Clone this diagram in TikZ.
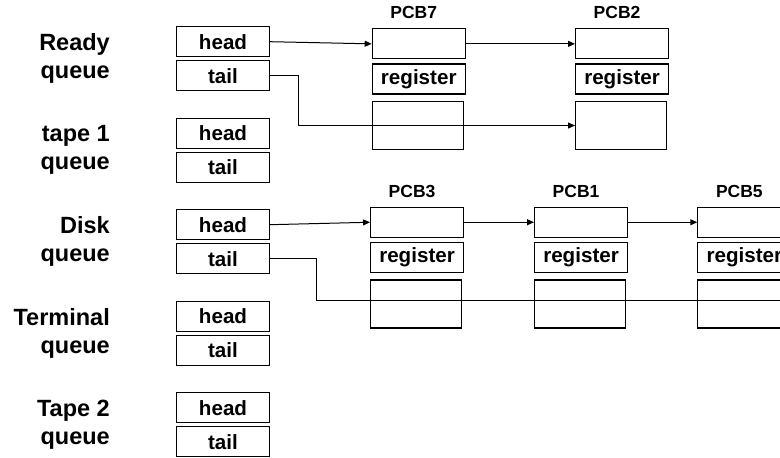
\documentclass[tikz,border=0pt]{standalone}
\usepackage{fontspec}
\setmainfont{Liberation Sans}
\usetikzlibrary{arrows.meta,positioning}

\begin{document}
\begin{tikzpicture}[x=1pt,y=-1pt,
  box/.style={draw,line width=1.1pt,minimum width=93pt,minimum height=30pt,inner sep=0pt,font=\bfseries\fontsize{20.6}{24}\selectfont},
  slot/.style={draw,line width=1.1pt,minimum width=91pt,minimum height=48pt,inner sep=0pt},
  qlabel/.style={anchor=east,align=right,inner sep=0pt,font=\bfseries\fontsize{23.5}{28}\selectfont},
  pcbname/.style={inner sep=0pt,font=\bfseries\fontsize{17.5}{20}\selectfont},
  link/.style={line width=1pt,-{Triangle[length=7pt,width=6pt]}}]
\useasboundingbox (0,0) rectangle (780,458);

% queue headers
\foreach \q/\txt [count=\i from 0] in {rdy/Ready, tp1/tape 1, dsk/Disk, trm/Terminal, tp2/Tape 2}{
  \node[box] (\q h) at (223,{41.7+91.5*\i}) {head};
  \node[box] (\q t) at (223,{75.7+91.5*\i}) {tail};
  \node[qlabel] (\q l) at (110,{58.7+91.5*\i}) {\txt\\queue};
}

% process control blocks
\foreach \p/\x/\y in {7/371.7/28.3, 2/575/28.3, 3/370/206.7, 1/534/206.7, 5/697.3/206.7}{
  \node[box,anchor=north west] (pcb\p) at (\x,\y) {};
  \node[box,below=4pt of pcb\p] (pcb\p r) {register};
  \node[slot,anchor=north west] (pcb\p b) at ([yshift=-6.5pt]pcb\p r.south west) {};
  \node[pcbname,above=9pt of pcb\p,xshift=-5pt] (pcb\p n) {PCB\p};
}

% ready queue
\draw[link] (rdyh.east) -- (pcb7.west);
\draw[link] (pcb7.east) -- (pcb2.west);
\draw[link] (rdyt.east) -- ++(28,0) |- (pcb2b.west);

% disk queue
\coordinate (dskend) at (790,300.8);
\draw[link] (dskh.east) -- (pcb3.west);
\draw[link] (pcb3.east) -- (pcb1.west);
\draw[link] (pcb1.east) -- (pcb5.west);
\draw[line width=1pt] (dskt.east) -- ++(46,0) |- (dskend);
\end{tikzpicture}
\end{document}
